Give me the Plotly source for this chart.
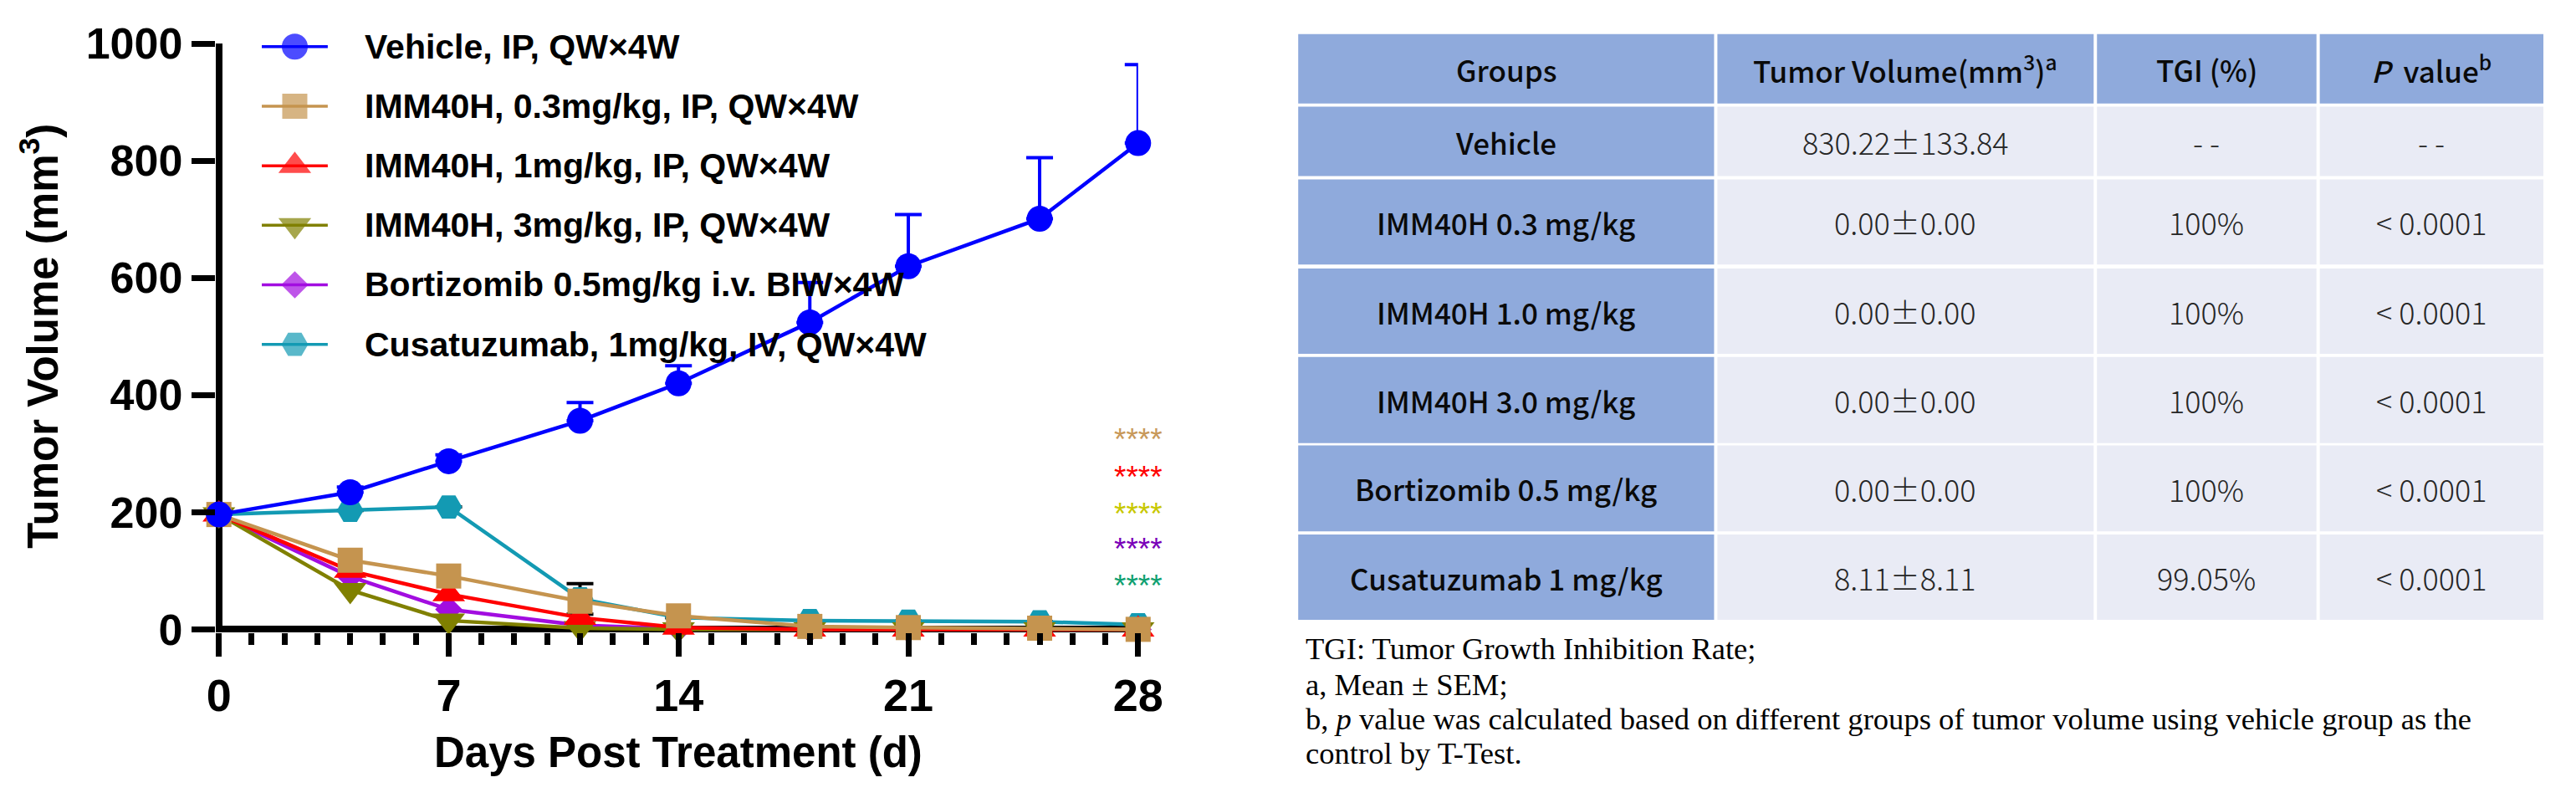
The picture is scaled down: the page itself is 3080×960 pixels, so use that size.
import plotly.graph_objects as go

# the page body keeps its default 8px margin on every side, so the figure is
# drawn 16px smaller and every reference pixel position is shifted by OFF
OFF = 8
W, H = 3080 - 2 * OFF, 960 - 2 * OFF

# ---------------- data ----------------
days = [0, 4, 7, 11, 14, 18, 21, 25, 28]
vehicle = [196, 234, 287, 356, 420, 524, 620, 701, 830]
vehicle_sem = [5, 9, 11, 31, 30, 68, 88, 104, 134]
imm40h_03 = [196, 118, 91, 48, 23, 5, 3, 2, 0]
imm40h_1 = [196, 100, 60, 20, 3, 0, 0, 0, 0]
imm40h_3 = [196, 67, 15, 2, 0, 0, 0, 0, 0]
bortizomib = [196, 90, 34, 7, 1, 0, 0, 0, 0]
cusatuzumab = [196, 203, 209, 52, 20, 15, 14, 13, 8]
cusatuzumab_sem = [None, None, None, 26, None, None, None, None, None]

series_names = [
    "Vehicle, IP, QW×4W",
    "IMM40H, 0.3mg/kg, IP, QW×4W",
    "IMM40H, 1mg/kg, IP, QW×4W",
    "IMM40H, 3mg/kg, IP, QW×4W",
    "Bortizomib 0.5mg/kg i.v. BIW×4W",
    "Cusatuzumab, 1mg/kg, IV, QW×4W",
]
series_values = [vehicle, imm40h_03, imm40h_1, imm40h_3, bortizomib, cusatuzumab]
series_colors = ["#0000FF", "#C5944F", "#FF0000", "#808000", "#A20DE0", "#139AB3"]
series_symbols = ["circle", "square", "triangle-up", "triangle-down", "diamond", "hexagon2"]
series_sizes = [31, 30, 34, 34, 25, 32]

star_text = "****"
star_colors = ["#C8995A", "#FF0000", "#C8C800", "#7A00B8", "#0FA070"]

x_ticks = [0, 7, 14, 21, 28]
y_ticks = [0, 200, 400, 600, 800, 1000]

table_header = ["Groups", "Tumor Volume(mm<sup>3</sup>)<sup>a</sup>", "TGI (%)", "<i>P</i>  value<sup>b</sup>"]
table_groups = ["Vehicle", "IMM40H 0.3 mg/kg", "IMM40H 1.0 mg/kg", "IMM40H 3.0 mg/kg",
                "Bortizomib 0.5 mg/kg", "Cusatuzumab 1 mg/kg"]
table_volume = ["830.22±133.84", "0.00±0.00", "0.00±0.00", "0.00±0.00", "0.00±0.00", "8.11±8.11"]
table_tgi = ["- -", "100%", "100%", "100%", "100%", "99.05%"]
table_p = ["- -", "< 0.0001", "< 0.0001", "< 0.0001", "< 0.0001", "< 0.0001"]

footnotes = [
    "TGI: Tumor Growth Inhibition Rate;",
    "a, Mean ± SEM;",
    "b, <i>p</i> value was calculated based on different groups of tumor volume using vehicle group as the",
    "control by T-Test.",
]

# ---------------- layout helpers (reference pixel -> paper) ----------------
def px(x):
    return (x - OFF) / W

def py(y):
    return 1 - (y - OFF) / H

SANS = "Liberation Sans, Arial, sans-serif"
TBL = "Noto Sans CJK SC, Noto Sans, sans-serif"
SERIF = "Liberation Serif, Times New Roman, serif"

# main plot geometry (reference pixels)
x0_px, x28_px = 254, 1368
y0_px, y1000_px = 767, 25
xs = (x28_px - x0_px) / 28.0
ys = (y0_px - y1000_px) / 1000.0
half = 4
ytop = 1000.5

fig = go.Figure()

# draw in reverse so the first dataset is on top (Prism style)
for i in reversed(range(len(series_names))):
    kw = {}
    if i == 0:
        kw["error_y"] = dict(type="data", symmetric=False, array=vehicle_sem,
                             arrayminus=[0] * len(days), color=series_colors[0],
                             thickness=4, width=16)
    if i == 5:
        kw["error_y"] = dict(type="data", symmetric=True, array=cusatuzumab_sem,
                             color="#000000", thickness=4, width=16)
    fig.add_trace(go.Scatter(
        x=days, y=series_values[i], mode="lines+markers",
        line=dict(color=series_colors[i], width=4.5),
        marker=dict(symbol=series_symbols[i], size=series_sizes[i],
                    color=series_colors[i], line=dict(width=0)),
        cliponaxis=False, showlegend=False, name=series_names[i],
        xaxis="x", yaxis="y", **kw))

# custom legend (rows on an auxiliary axis)
for i in range(len(series_names)):
    fig.add_trace(go.Scatter(
        x=[0, 0.5, 1], y=[i, i, i], mode="lines+markers",
        line=dict(color=series_colors[i], width=3.5),
        marker=dict(symbol=series_symbols[i], size=[0, series_sizes[i], 0],
                    color=series_colors[i], line=dict(width=0)),
        cliponaxis=False, showlegend=False, hoverinfo="skip",
        xaxis="x2", yaxis="y2"))

annotations = []
for i, name in enumerate(series_names):
    annotations.append(dict(
        xref="x2", yref="y2", x=1, y=i, xanchor="left", yanchor="middle",
        xshift=42, text=name, showarrow=False,
        font=dict(family=SANS, size=41, color="black", weight="bold")))

# significance stars
star_rows_px = [518, 566, 612, 657, 704]
for c, yp in zip(star_colors, star_rows_px):
    annotations.append(dict(
        xref="x", yref="paper", x=28, y=py(yp + 8.5), xanchor="center", yanchor="middle",
        text=star_text, showarrow=False,
        font=dict(family=SANS, size=37, color=c)))

# axis titles
annotations.append(dict(
    xref="paper", yref="paper", x=px(37), y=py((y0_px + y1000_px) / 2),
    xanchor="center", yanchor="middle", textangle=-90, showarrow=False,
    text="Tumor Volume (mm<sup>3</sup>)",
    font=dict(family=SANS, size=51, color="black", weight="bold")))
annotations.append(dict(
    xref="paper", yref="paper", x=px((x0_px + x28_px) / 2), y=py(923),
    xanchor="center", yanchor="middle", showarrow=False,
    text="Days Post Treatment (d)",
    font=dict(family=SANS, size=51, color="black", weight="bold")))

# ---------------- table ----------------
col_edges = [(1562, 2066), (2070, 2526), (2530, 2796), (2800, 3071)]
row_edges = [(13, 101), (105, 193), (197, 305), (310, 418), (422, 531), (534, 643), (647, 755)]
dark_fill = "#8FAADC"
light_fill = "#E9EBF5"
shapes = []
table_rows = [table_header] + [
    [g, v, t, p] for g, v, t, p in zip(table_groups, table_volume, table_tgi, table_p)]
for r, (ya, yb) in enumerate(row_edges):
    for c, (xa, xb) in enumerate(col_edges):
        fill = dark_fill if (r == 0 or c == 0) else light_fill
        shapes.append(dict(type="rect", xref="paper", yref="paper",
                           x0=px(xa), x1=px(xb), y0=py(yb), y1=py(ya),
                           fillcolor=fill, line=dict(width=0), layer="below"))
        strong = (r == 0 or c == 0)
        annotations.append(dict(
            xref="paper", yref="paper", x=px((xa + xb) / 2), y=py((ya + yb) / 2),
            xanchor="center", yanchor="middle", showarrow=False,
            text=table_rows[r][c],
            font=dict(family=TBL, size=35 if strong else 36,
                      color="#0a0a0a" if strong else "#262626",
                      weight=500 if strong else 300)))

foot_px = [792, 837, 880, 924]
for t, yp in zip(footnotes, foot_px):
    annotations.append(dict(
        xref="paper", yref="paper", x=px(1569), y=py(yp), xanchor="left", yanchor="middle",
        showarrow=False, text=t, font=dict(family=SERIF, size=36.6, color="black")))

fig.update_layout(
    width=W, height=H, margin=dict(l=0, r=0, t=0, b=0),
    paper_bgcolor="white", plot_bgcolor="rgba(0,0,0,0)",
    showlegend=False,
    xaxis=dict(
        domain=[px(x0_px - half), px(x28_px)],
        range=[-half / xs, 28], tickmode="array", tickvals=x_ticks,
        ticktext=[str(v) for v in x_ticks],
        ticks="outside", ticklen=28, tickwidth=7, tickcolor="black",
        minor=dict(dtick=1, tick0=0, ticks="outside", ticklen=14, tickwidth=7,
                   tickcolor="black", showgrid=False),
        showgrid=False, showline=False, ticklabeloverflow="allow",
        zeroline=True, zerolinecolor="black", zerolinewidth=8,
        tickfont=dict(family=SANS, size=54, color="black", weight="bold"),
        fixedrange=True, anchor="y"),
    yaxis=dict(
        domain=[py(y0_px + half), py(y0_px - ytop * ys)],
        range=[-half / ys, ytop], tickmode="array", tickvals=y_ticks,
        ticktext=[str(v) for v in y_ticks],
        ticks="outside", ticklen=28, tickwidth=7, tickcolor="black",
        showgrid=False, showline=False, ticklabeloverflow="allow",
        zeroline=True, zerolinecolor="black", zerolinewidth=8,
        tickfont=dict(family=SANS, size=52, color="black", weight="bold"),
        fixedrange=True, anchor="x"),
    xaxis2=dict(domain=[px(306), px(386)], range=[0, 1], visible=False,
                anchor="y2", fixedrange=True),
    yaxis2=dict(domain=[py(29 + 5.25 * 75.4), py(29 - 0.25 * 75.4)], range=[5.25, -0.25],
                visible=False, anchor="x2", fixedrange=True),
    annotations=annotations,
    shapes=shapes,
)

fig.write_html("out.html")
